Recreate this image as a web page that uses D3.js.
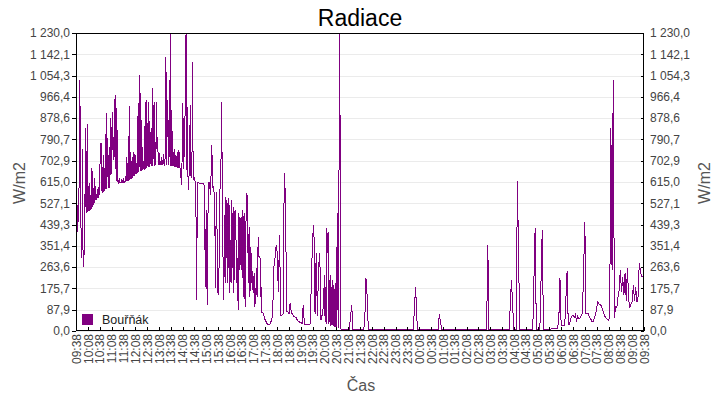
<!DOCTYPE html>
<html><head><meta charset="utf-8">
<script src="https://cdn.jsdelivr.net/npm/d3@7"></script>
<style>
body{margin:0;background:#fff}
text{font-family:"Liberation Sans",Arial,sans-serif}
</style>
</head><body>
<svg id="chart" width="720" height="400"></svg>
<script>
const chartTitle = "Radiace";
const seriesName = "Bouřňák";
const yTitle = "W/m2";
const xTitle = "Čas";
const yMax = 1230;
const yTickCount = 15;
const xTickLabels = ["09:38","10:08","10:38","11:08","11:38","12:08","12:38","13:08","13:38","14:08","14:38","15:08","15:38","16:08","16:38","17:08","17:38","18:08","18:38","19:08","19:38","20:08","20:38","21:08","21:38","22:08","22:38","23:08","23:38","00:08","00:38","01:08","01:38","02:08","02:38","03:08","03:38","04:08","04:38","05:08","05:38","06:08","06:38","07:08","07:38","08:08","08:38","09:08","09:38"];

// 09:38-18:08, 1.5-minute samples (ten per quarter hour)
const dayStep = 1.5;
const dayValues = [
420,553,409,520,450,540,1036,900,480,363,
300,751,263,280,340,479,838,485,560,855,
490,600,495,611,500,560,505,673,512,590,
520,631,530,600,540,545,585,550,556,600,
560,776,690,776,570,677,574,726,578,650,
585,900,588,797,640,590,760,592,700,879,
650,760,904,706,800,720,974,760,620,920,
640,615,611,631,611,611,612,625,612,613,
631,614,615,616,640,618,718,619,660,620,
929,625,739,628,700,630,720,640,739,645,
648,725,650,690,652,941,655,700,1057,660,
871,662,760,663,700,665,667,945,668,953,
673,858,675,945,750,677,820,700,680,1003,
682,860,945,683,780,684,945,750,800,700,
685,735,685,700,685,720,686,685,730,685,
684,740,1131,684,953,800,870,684,1036,683,
1230,682,842,776,680,740,679,750,678,720,
677,740,676,675,745,674,673,660,603,640,
940,670,880,718,820,1077,1230,665,925,660,
582,640,650,933,640,636,700,1110,630,625,
636,620,615,446,128,611,612,611,611,610,
610,611,609,608,610,607,605,600,347,182,
500,223,107,470,611,613,615,560,610,768,
720,611,574,600,500,388,178,574,480,300,
157,150,300,574,600,685,945,677,458,128,
169,479,198,553,300,541,198,549,260,520,
157,376,200,541,260,487,157,512,210,500,
400,347,198,300,87,487,250,470,458,250,
430,500,250,140,487,200,99,400,549,569,
320,400,200,429,140,347,200,322,170,240,
157,239,99,177,110,260,140,280,388,306,
306,300,140,180,78,76,74,70,60,50,
45,40,35,30,28,25,25,26,30,35,
42,50,60,128,200,301,290,322,347,355
];

// 18:08-20:08, 3-minute samples
const eveningStep = 3;
const eveningValues = [
320,161,396,66,66,70,652,553,80,82,
70,116,75,70,60,58,55,45,40,37,
35,30,107,28,25,25,25,28,30,231,
388,438,70,322,60,260,322,45,66,99
];

// 20:08-21:08, 1.5-minute samples
const duskStep = 1.5;
const duskValues = [
231,37,180,30,425,322,410,30,210,37,
231,20,180,25,210,20,190,18,200,15,
347,15,487,20,12,1230,1127,15,7,7,
7,7,7,7,7,7,7,7,7,7
];

// 21:08-09:38, 3-minute samples
const nightStep = 3;
const nightValues = [
7,7,59,107,7,7,7,7,7,7,
7,7,7,7,34,220,149,7,7,7,
7,7,7,7,7,7,7,7,7,7,
7,7,7,7,7,7,7,7,7,7,
7,7,7,7,7,7,7,7,7,7,
7,7,7,7,7,7,94,183,50,7,
7,7,7,7,7,7,7,7,7,7,
7,7,7,7,7,7,7,70,38,7,
7,7,7,7,7,7,7,7,7,7,
7,7,7,7,7,7,7,7,7,7,
7,7,7,7,7,7,7,7,7,7,
7,7,7,7,7,7,7,7,355,7,
7,7,7,7,7,7,7,7,7,7,
7,7,7,7,7,7,7,107,210,107,
7,7,7,619,314,7,7,7,7,7,
7,7,7,7,7,7,7,214,425,7,
7,7,7,214,417,7,7,7,7,7,
7,7,12,12,12,12,12,12,45,219,
21,21,21,21,132,248,25,25,50,60,
66,55,66,45,62,50,54,66,74,260,
450,70,74,70,58,50,40,37,55,66,
95,120,112,110,103,85,74,60,54,48,
45,54,838,250,1036,54,99,95,140,170,
252,160,223,148,240,124,260,130,99,110,
120,190,124,182,120,140,281,250,223,223,
223
];

(function () {
const color = "#800080";
const pL = 76, pR = 644, pT = 33, pB = 331;
const MIN = 60000;

let dayOffset = 0, prevMin = -1;
const tickDates = xTickLabels.map((lab, i) => {
  const [h, m] = lab.split(":").map(Number);
  const mins = h * 60 + m;
  if (i > 0 && mins <= prevMin) dayOffset++;
  prevMin = mins;
  return new Date(2000, 0, 1 + dayOffset, h, m);
});

const parts = [[dayValues, dayStep], [eveningValues, eveningStep], [duskValues, duskStep], [nightValues, nightStep]];
let t0 = +tickDates[0];
const data = [];
parts.forEach(([vals, step]) => {
  vals.forEach((v, i) => data.push({t: new Date(t0 + i * step * MIN), v}));
  t0 += vals.length * step * MIN;
});

const svg = d3.select("#chart");
const x = d3.scaleTime().domain([tickDates[0], tickDates[tickDates.length - 1]]).range([pL, pR]);
const y = d3.scaleLinear().domain([0, yMax]).range([pB, pT]);
const yTicks = d3.range(yTickCount).map(i => yMax * i / (yTickCount - 1));
const loc = d3.formatLocale({decimal: ",", thousands: " ", grouping: [3], currency: ["", ""]});
const fmt = loc.format(",.1f");
const tfmt = d3.timeFormat("%H:%M");

// gridlines
svg.append("g").selectAll("line").data(yTicks).join("line")
  .attr("x1", pL).attr("x2", pR)
  .attr("y1", d => Math.round(y(d)) + 0.5).attr("y2", d => Math.round(y(d)) + 0.5)
  .attr("stroke", "#ebebeb").attr("stroke-width", 1);

// data line
svg.append("clipPath").attr("id", "clip").append("rect")
  .attr("x", pL).attr("y", pT - 1).attr("width", pR - pL).attr("height", pB - pT + 1);
svg.append("path").datum(data)
  .attr("clip-path", "url(#clip)")
  .attr("fill", "none").attr("stroke", color).attr("stroke-width", 1)
  .attr("shape-rendering", "crispEdges")
  .attr("d", d3.line().x(d => x(d.t)).y(d => y(d.v)));

// axes
const styleAxis = g => {
  g.select(".domain").remove();
  g.selectAll("line").attr("stroke", "#000").attr("shape-rendering", "crispEdges");
  g.selectAll("text").attr("fill", "#444").style("font-size", "12px")
    .style("font-family", "'Liberation Sans',Arial,sans-serif");
};
svg.append("g").attr("transform", `translate(${pL},0)`)
  .call(d3.axisLeft(y).tickValues(yTicks).tickFormat(fmt).tickSize(4).tickPadding(2))
  .call(styleAxis);
svg.append("g").attr("transform", `translate(${pR},0)`)
  .call(d3.axisRight(y).tickValues(yTicks).tickFormat(fmt).tickSize(-3).tickPadding(6))
  .call(styleAxis);
const xg = svg.append("g").attr("transform", `translate(0,${pB})`)
  .call(d3.axisBottom(x).tickValues(tickDates).tickFormat(tfmt).tickSize(-4))
  .call(styleAxis);
xg.selectAll("text")
  .attr("transform", "rotate(-90)")
  .attr("x", -3).attr("y", 0).attr("dy", "0.35em")
  .style("text-anchor", "end");

// frame
svg.append("rect").attr("x", pL + 0.5).attr("y", pT + 0.5)
  .attr("width", pR - pL - 1).attr("height", pB - pT - 1)
  .attr("fill", "none").attr("stroke", "#000").attr("stroke-width", 1);

// titles
svg.append("text").attr("x", 360).attr("y", 26).attr("text-anchor", "middle")
  .style("font-size", "23px").attr("fill", "#000").text(chartTitle);
svg.append("text").attr("transform", "translate(25,183) rotate(-90)").attr("text-anchor", "middle")
  .style("font-size", "16px").attr("fill", "#555").text(yTitle);
svg.append("text").attr("transform", "translate(710,183) rotate(-90)").attr("text-anchor", "middle")
  .style("font-size", "16px").attr("fill", "#555").text(yTitle);
svg.append("text").attr("x", 361).attr("y", 391).attr("text-anchor", "middle")
  .style("font-size", "16px").attr("fill", "#555").text(xTitle);

// legend
svg.append("rect").attr("x", 82).attr("y", 314).attr("width", 11).attr("height", 11).attr("fill", color);
svg.append("text").attr("x", 102).attr("y", 324).style("font-size", "12.5px").attr("fill", "#222").text(seriesName);
})();
</script>
</body></html>
